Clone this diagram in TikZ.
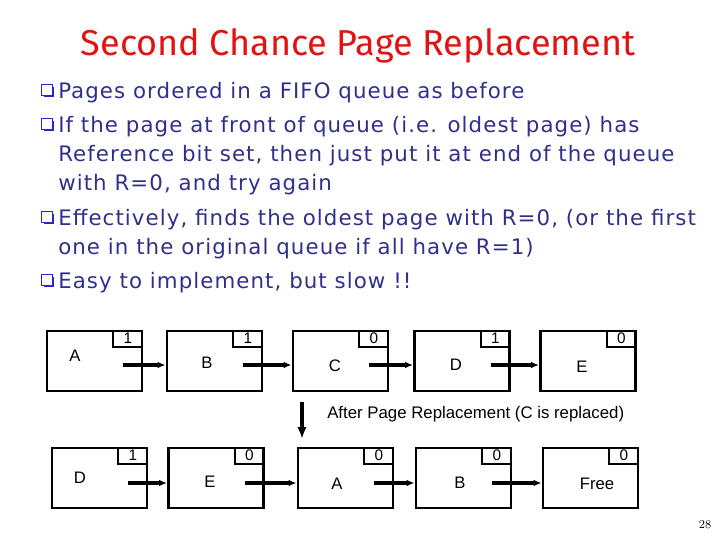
\documentclass[tikz,border=0pt]{standalone}
\usepackage{fontspec}
\usetikzlibrary{arrows.meta,positioning,calc,shadows}
\newfontfamily\titlefont{Fira Sans}
\newfontfamily\bodyfont{DejaVu Sans}[LetterSpace=5]
\newfontfamily\boxfont{Liberation Sans}
\definecolor{slideRed}{RGB}{226,18,18}
\definecolor{slideNavy}{RGB}{48,48,140}
\definecolor{slideBlue}{RGB}{40,40,200}

\begin{document}
\begin{tikzpicture}[
  x=0.75pt,y=-0.75pt,
  pagebox/.style={
    draw,
    line width=2.2pt,
    minimum width=71.25pt,
    minimum height=45pt,
    inner sep=0pt
  },
  refbit/.style={
    draw,
    line width=1.5pt,
    minimum width=22pt,
    minimum height=12pt,
    inner sep=0pt,
    anchor=north east,
    font=\boxfont\fontsize{11.5}{12}\selectfont
  },
  pagename/.style={font=\boxfont\fontsize{12.5}{14}\selectfont},
  link/.style={-{Latex[length=6pt,width=5pt]},line width=3pt},
  bullet/.style={
    draw=slideBlue,
    fill=white,
    line width=1pt,
    minimum size=8pt,
    inner sep=0pt,
    drop shadow={shadow xshift=1.5pt,shadow yshift=-1.5pt,fill=slideBlue,opacity=1}
  },
  bodyline/.style={anchor=base west,inner sep=0pt,text=slideNavy,font=\bodyfont\fontsize{16}{18}\selectfont}
]
  \useasboundingbox (0,0) rectangle (720,540);

  \node[font=\titlefont\fontsize{27}{30}\selectfont,text=slideRed] (title) at (358,46) {Second Chance Page Replacement};

  % bullet list
  \node[bullet] (b1) at (47,90) {};
  \node[bodyline] (l1) at (58,98) {Pages ordered in a FIFO queue as before};
  \node[bullet] (b2) at (47,124) {};
  \node[bodyline] (l2) at (58,132) {If the page at front of queue (i.e. oldest page) has};
  \node[bodyline] (l3) at (58,161) {Reference bit set, then just put it at end of the queue};
  \node[bodyline] (l4) at (58,190) {with R=0, and try again};
  \node[bullet] (b3) at (47,217) {};
  \node[bodyline] (l5) at (58,225) {Effectively, finds the oldest page with R=0, (or the first};
  \node[bodyline] (l6) at (58,254) {one in the original queue if all have R=1)};
  \node[bullet] (b4) at (47,280) {};
  \node[bodyline] (l7) at (58,288) {Easy to implement, but slow !!};

  % queue before replacement
  \node[pagebox] (pa) at (94.5,361) {};
  \node[refbit] (ra) at (pa.north east) {1};
  \node[pagename] at ($(pa.center)+(-19.5,-5)$) {A};
  \node[pagebox] (pb) at (214.5,361) {};
  \node[refbit] (rb) at (pb.north east) {1};
  \node[pagename] at ($(pb.center)+(-7.5,2)$) {B};
  \node[pagebox] (pc) at (340.5,361) {};
  \node[refbit] (rc) at (pc.north east) {0};
  \node[pagename] at ($(pc.center)+(-5.5,5)$) {C};
  \node[pagebox] (pd) at (462,361) {};
  \node[refbit] (rd) at (pd.north east) {1};
  \node[pagename] at ($(pd.center)+(-6,4)$) {D};
  \node[pagebox] (pe) at (588,361) {};
  \node[refbit] (re) at (pe.north east) {0};
  \node[pagename] at ($(pe.center)+(-6,6)$) {E};
  \draw[link] ($(pa.east)+(-20,4)$) -- ($(pb.west)+(0,4)$);
  \draw[link] ($(pb.east)+(-20,4)$) -- ($(pc.west)+(0,4)$);
  \draw[link] ($(pc.east)+(-20,4)$) -- ($(pd.west)+(0,4)$);
  \draw[link] ($(pd.east)+(-20,4)$) -- ($(pe.west)+(0,4)$);

  % step down
  \coordinate (droptop) at (302,402);
  \coordinate (dropend) at (302,439);
  \draw[-{Latex[length=9pt,width=7pt]},line width=3pt] (droptop) -- (dropend);
  \node[anchor=west,inner sep=0pt,font=\boxfont\fontsize{12.6}{14}\selectfont] (after) at (327,414) {After Page Replacement (C is replaced)};

  % queue after replacement
  \node[pagebox] (qd) at (99.5,478) {};
  \node[refbit] (sd) at (qd.north east) {1};
  \node[pagename] at ($(qd.center)+(-19.5,0)$) {D};
  \node[pagebox] (qe) at (216,478) {};
  \node[refbit] (se) at (qe.north east) {0};
  \node[pagename] at ($(qe.center)+(-6,4)$) {E};
  \node[pagebox] (qa) at (345.5,478) {};
  \node[refbit] (sa) at (qa.north east) {0};
  \node[pagename] at ($(qa.center)+(-8.5,6)$) {A};
  \node[pagebox] (qb) at (463.5,478) {};
  \node[refbit] (sb) at (qb.north east) {0};
  \node[pagename] at ($(qb.center)+(-3.5,5)$) {B};
  \node[pagebox] (qf) at (590.5,478) {};
  \node[refbit] (sf) at (qf.north east) {0};
  \node[pagename] at ($(qf.center)+(6.5,6)$) {Free};
  \draw[link] ($(qd.east)+(-20,5)$) -- ($(qe.west)+(0,5)$);
  \draw[link] ($(qe.east)+(-20,5)$) -- ($(qa.west)+(0,5)$);
  \draw[link] ($(qa.east)+(-20,5)$) -- ($(qb.west)+(0,5)$);
  \draw[link] ($(qb.east)+(-20,5)$) -- ($(qf.west)+(0,5)$);

  \node[font=\fontsize{9}{10}\selectfont] (pageno) at (705,525) {28};
\end{tikzpicture}
\end{document}
